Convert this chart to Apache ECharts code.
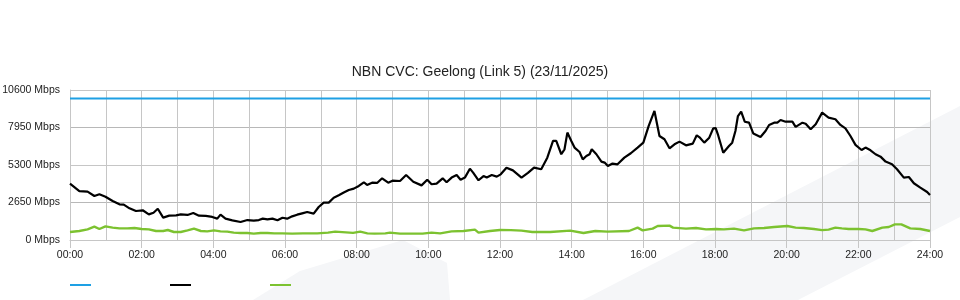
<!DOCTYPE html>
<html>
<head>
<meta charset="utf-8">
<script src="https://cdn.jsdelivr.net/npm/echarts@6/dist/echarts.min.js"></script>
<style>
  html, body { margin: 0; padding: 0; background: #ffffff; }
  #chart { width: 960px; height: 300px; }
</style>
</head>
<body>
<div id="chart"></div>
<script>
var titleText = 'NBN CVC: Geelong (Link 5) (23/11/2025)';
var xTickLabels = ['00:00','02:00','04:00','06:00','08:00','10:00','12:00','14:00','16:00','18:00','20:00','22:00','24:00'];
var yTickLabels = ['0 Mbps','2650 Mbps','5300 Mbps','7950 Mbps','10600 Mbps'];
var seriesNames = ['Capacity', 'Download', 'Upload'];

var capacityHours = [0, 24];
var capacityValues = [10000, 10000];

var downloadHours = [0.00,0.26,0.49,0.68,0.82,0.99,1.19,1.38,1.50,1.66,1.84,2.03,2.20,2.33,2.45,2.60,2.77,2.96,3.09,3.28,3.44,3.60,3.79,3.97,4.11,4.20,4.34,4.53,4.76,4.95,5.13,5.27,5.38,5.51,5.65,5.79,5.93,6.06,6.20,6.34,6.48,6.62,6.80,6.94,7.08,7.22,7.36,7.50,7.64,7.78,7.92,8.06,8.20,8.29,8.43,8.57,8.71,8.88,9.00,9.21,9.38,9.58,9.81,9.97,10.09,10.23,10.40,10.51,10.65,10.79,10.90,11.02,11.16,11.25,11.40,11.54,11.63,11.77,11.91,12.02,12.18,12.36,12.60,12.78,12.95,13.15,13.32,13.48,13.57,13.71,13.80,13.88,13.99,14.08,14.22,14.31,14.41,14.50,14.56,14.69,14.83,14.92,15.01,15.14,15.28,15.47,15.65,15.84,16.00,16.15,16.31,16.45,16.59,16.73,16.87,17.01,17.19,17.38,17.49,17.58,17.70,17.84,17.95,18.02,18.08,18.23,18.39,18.48,18.57,18.64,18.73,18.83,18.95,19.07,19.27,19.41,19.51,19.65,19.74,19.83,19.97,20.16,20.25,20.44,20.53,20.67,20.81,20.99,21.17,21.36,21.50,21.64,21.78,21.92,22.09,22.20,22.34,22.48,22.62,22.76,22.94,23.08,23.27,23.41,23.55,23.73,23.92,24.00];
var downloadValues = [3980,3460,3420,3110,3230,3060,2760,2520,2500,2240,2050,2100,1810,1930,2210,1580,1720,1745,1810,1770,1910,1720,1700,1630,1510,1790,1510,1390,1270,1410,1370,1410,1510,1460,1510,1390,1570,1510,1670,1790,1885,1980,1860,2330,2640,2640,2990,3160,3350,3530,3630,3820,4080,3890,4050,4030,4360,4050,4190,4170,4590,4120,3860,4260,3940,3980,4360,4080,4410,4590,4260,4410,5040,4760,4220,4520,4410,4590,4480,4640,5110,4920,4410,4740,5110,5000,5820,7000,7000,6060,6410,7590,7000,6530,6220,5700,5940,6060,6410,6060,5540,5470,5230,5400,5350,5820,6130,6530,6880,8060,9120,7350,7120,6480,6760,6950,6690,6810,7400,7230,6880,7230,7890,7900,7470,6170,6640,6880,7700,8760,9070,8360,8290,7520,7280,7700,8130,8290,8290,8480,8360,8360,7990,8290,8220,7820,8180,9000,8650,8530,8130,7890,7350,6720,6360,6530,6340,6060,5890,5540,5350,5000,4410,4450,4010,3700,3390,3180];

var uploadHours = [0.00,0.26,0.49,0.68,0.82,0.99,1.19,1.38,1.60,1.80,2.00,2.20,2.40,2.60,2.73,2.90,3.09,3.28,3.46,3.65,3.83,4.02,4.20,4.39,4.57,4.76,4.95,5.13,5.32,5.51,5.70,5.92,6.20,6.50,6.90,7.20,7.40,7.60,7.90,8.10,8.30,8.50,8.80,8.93,9.21,9.84,10.09,10.33,10.65,10.98,11.30,11.40,11.72,12.00,12.30,12.60,12.90,13.40,13.96,14.33,14.66,15.00,15.60,15.84,15.98,16.26,16.40,16.73,16.83,17.19,17.47,17.75,18.03,18.25,18.53,18.81,19.09,19.37,19.65,20.02,20.25,20.48,20.76,20.99,21.17,21.36,21.54,21.73,22.01,22.20,22.39,22.67,22.85,23.02,23.20,23.45,23.73,24.00];
var uploadValues = [565,636,754,942,777,966,872,825,825,848,777,754,636,636,707,565,565,683,801,636,612,683,612,589,518,495,495,448,495,495,471,471,450,471,471,520,589,560,500,589,470,450,470,518,448,448,518,471,612,636,730,518,636,710,700,660,565,565,660,495,636,589,636,872,683,801,990,1013,872,801,848,754,780,754,801,683,825,848,919,990,872,848,777,700,730,872,825,777,777,754,636,872,919,1107,1107,825,777,636];

function pairs(xs, ys) {
  var out = [];
  for (var i = 0; i < xs.length; i++) out.push([xs[i], ys[i]]);
  return out;
}

var chart = echarts.init(document.getElementById('chart'), null, { renderer: 'canvas' });
var font = "'Liberation Sans', Arial, sans-serif";
var gridColor = '#c6c6c6';
var wm = '#f5f6f8';

chart.setOption({
  animation: false,
  backgroundColor: '#ffffff',
  textStyle: { fontFamily: font },
  title: {
    text: titleText,
    left: 'center',
    top: 60,
    textStyle: { fontFamily: font, fontSize: 14, fontWeight: 'normal', color: '#222' }
  },
  graphic: [
    { type: 'polygon', z: -10, silent: true,
      shape: { points: [[253,300],[300,271],[320,265],[403,240],[447,263],[450,300]] },
      style: { fill: wm } },
    { type: 'polygon', z: -10, silent: true,
      shape: { points: [[583,300],[960,106],[960,217],[798,300]] },
      style: { fill: wm } }
  ],
  legend: {
    left: 70,
    top: 284,
    padding: 0,
    icon: 'rect',
    itemWidth: 21,
    itemHeight: 2,
    itemGap: 79,
    formatter: function () { return ''; },
    data: seriesNames
  },
  grid: { left: 70, right: 30, top: 90, bottom: 60, containLabel: false, outerBoundsMode: 'none' },
  xAxis: {
    type: 'value',
    min: 0, max: 24, interval: 2,
    axisLine: { show: true, lineStyle: { color: gridColor, width: 1 } },
    axisTick: { show: true, length: 8, lineStyle: { color: gridColor } },
    axisLabel: {
      margin: 10, fontSize: 10.5, color: '#222', fontFamily: font,
      formatter: function (v) { return xTickLabels[Math.round(v / 2)]; }
    },
    splitLine: { show: true, lineStyle: { color: gridColor, width: 1 } },
    minorSplitLine: { show: true, lineStyle: { color: gridColor, width: 1 } },
    minorTick: { show: false, splitNumber: 2 }
  },
  yAxis: {
    type: 'value',
    min: 0, max: 10600, interval: 2650,
    axisLine: { show: true, lineStyle: { color: gridColor } },
    axisTick: { show: false },
    axisLabel: {
      margin: 10, fontSize: 10.5, color: '#222', fontFamily: font,
      formatter: function (v) { return yTickLabels[Math.round(v / 2650)]; }
    },
    splitLine: { show: true, lineStyle: { color: [gridColor, '#b8b8b8', gridColor, '#b8b8b8', gridColor], width: 1 } }
  },
  series: [
    {
      name: seriesNames[0], type: 'line', data: pairs(capacityHours, capacityValues),
      symbol: 'none', color: '#1ea0e4', lineStyle: { width: 2, color: '#1ea0e4' }, z: 3
    },
    {
      name: seriesNames[1], type: 'line', data: pairs(downloadHours, downloadValues),
      symbol: 'none', color: '#000000', lineStyle: { width: 2.2, color: '#000000' }, z: 4
    },
    {
      name: seriesNames[2], type: 'line', data: pairs(uploadHours, uploadValues),
      symbol: 'none', color: '#7cc230', lineStyle: { width: 2.4, color: '#7cc230' }, z: 2
    }
  ]
});
</script>
</body>
</html>
